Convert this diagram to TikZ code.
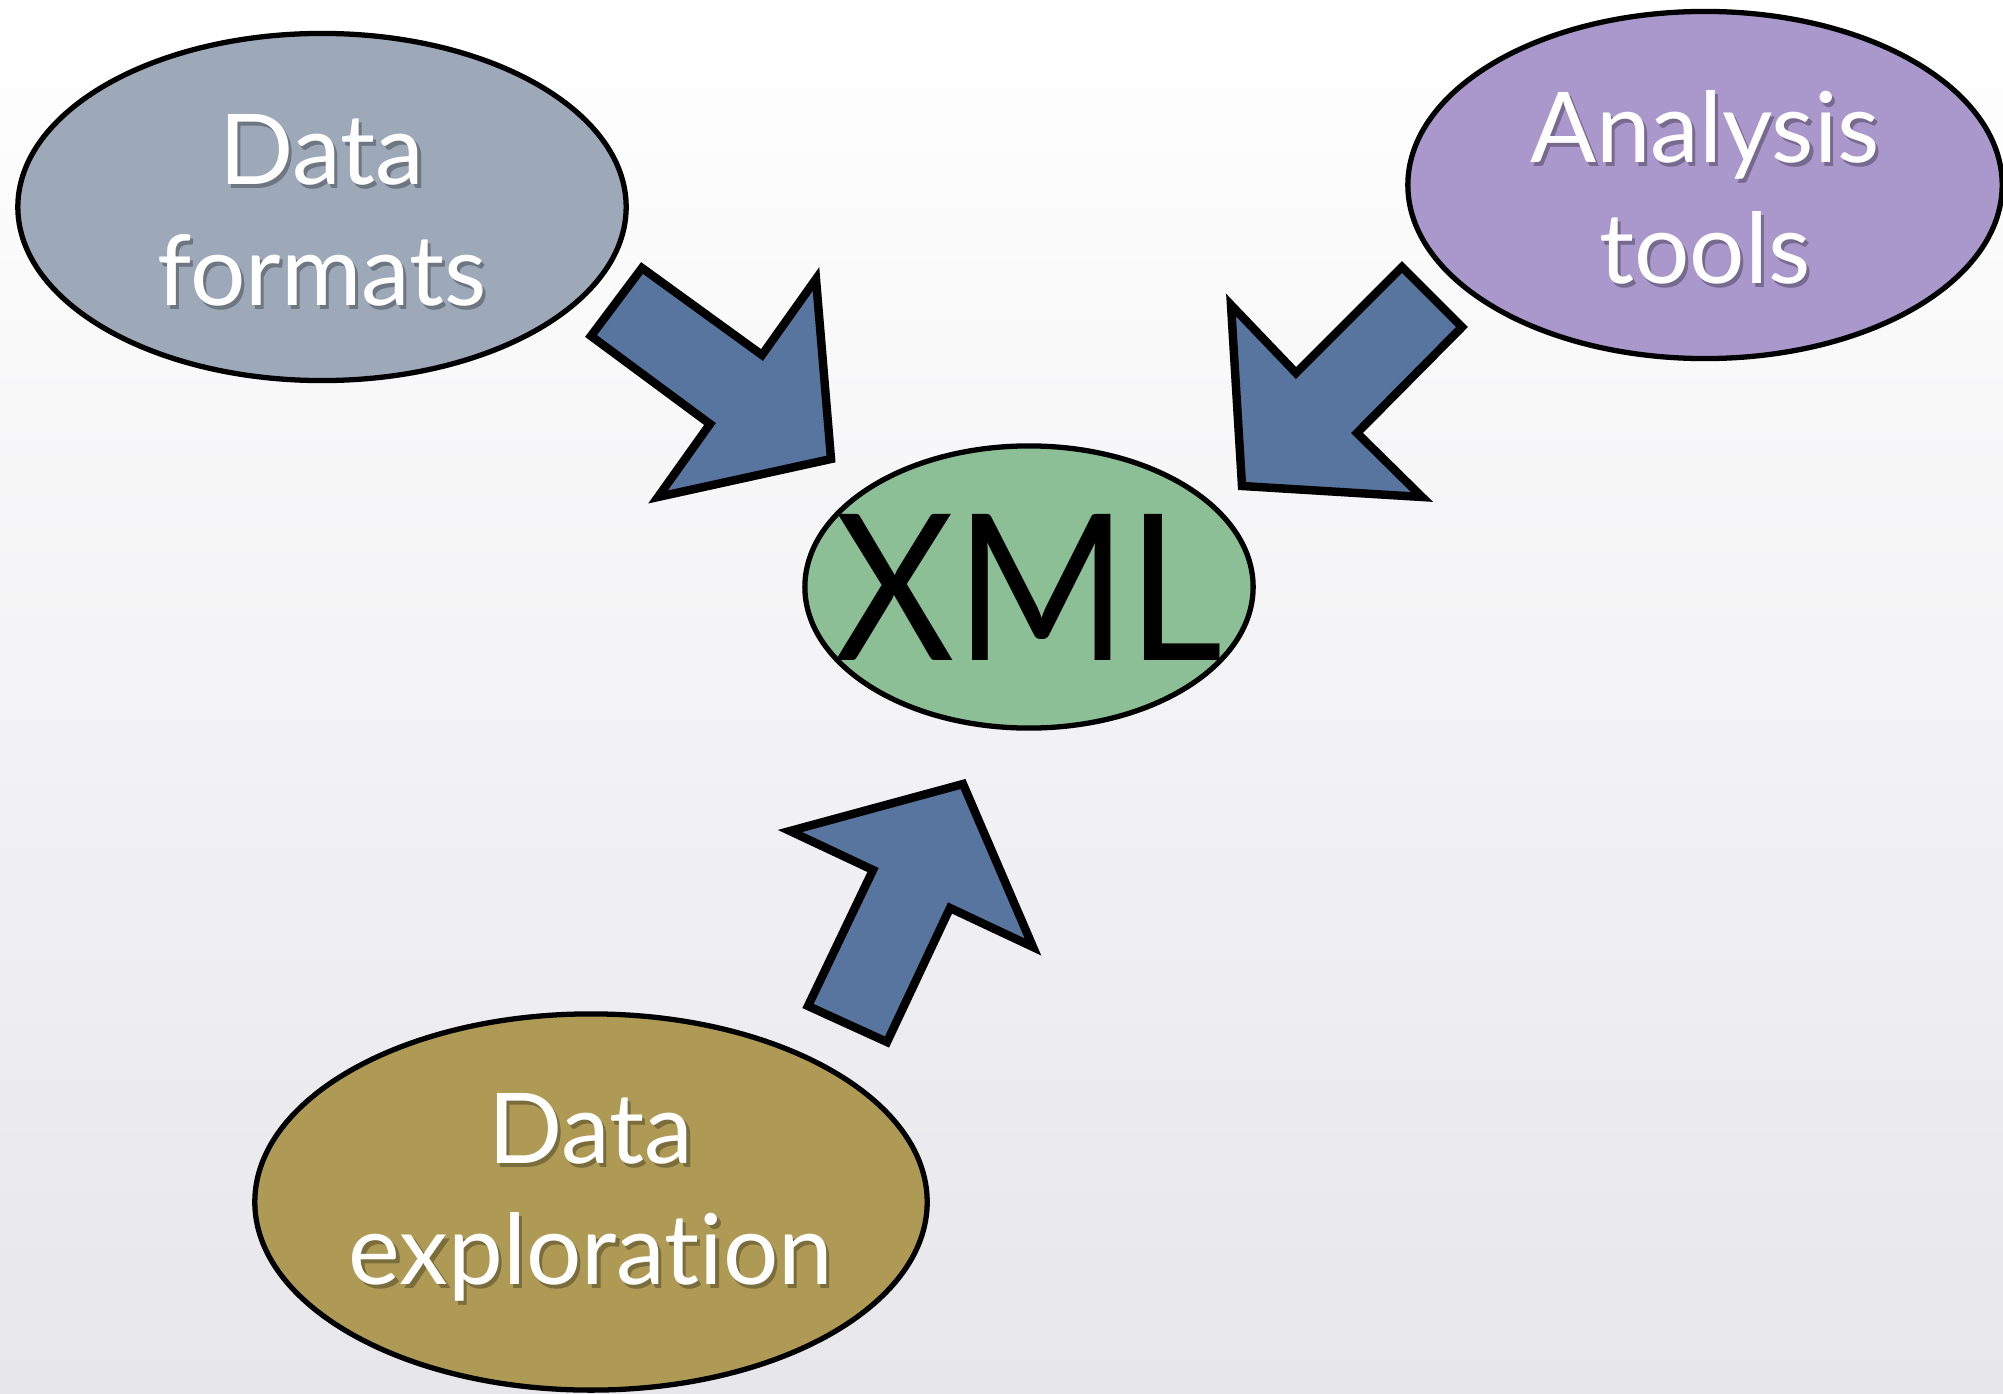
\documentclass[tikz,border=0pt]{standalone}
\usepackage{fontspec}
\setmainfont{Lato}[Ligatures=NoCommon]
\usetikzlibrary{shapes.geometric}

\definecolor{formatgray}{HTML}{9DA9B9}
\definecolor{toolpurple}{HTML}{AA97CC}
\definecolor{xmlgreen}{HTML}{8CBF95}
\definecolor{exploreolive}{HTML}{AE9A55}
\definecolor{arrowblue}{HTML}{5875A0}
\definecolor{bggray}{HTML}{E7E7EB}

% centred lines of zero width (the ellipse keeps its own size), with a dark shadow
\newcommand{\ctrtext}[3][0pt]{\raisebox{#1}[\height][\depth]{\makebox[0pt]{\makebox[0pt][l]{\hspace{0.9pt}\raisebox{-1pt}{\color{#2!70!black}\begin{tabular}{@{}c@{}}#3\end{tabular}}}\begin{tabular}{@{}c@{}}#3\end{tabular}}}}

\tikzset{
  bubble/.style={ellipse, draw=black, line width=1.5pt, inner sep=0pt, text=white,
    font=\fontsize{27.8}{34.4}\selectfont},
  blockarrow/.style={fill=arrowblue, draw=black, line width=2.4pt, line join=miter},
}

\begin{document}
\begin{tikzpicture}[x=0.01cm, y=-0.01cm]
        \shade[top color=white, middle color=white!97!bggray, bottom color=bggray] (0,0) rectangle (2003,1394);
        \useasboundingbox (0,0) rectangle (2003,1394);

        \node (formats) at (322,207) [bubble, fill=formatgray, minimum width=6.08cm, minimum height=3.42cm]{\ctrtext[-4.5pt]{formatgray}{Data\\formats}};
        \node (tools) at (1705,185) [bubble, fill=toolpurple, minimum width=5.94cm, minimum height=3.40cm]{\ctrtext[-4.5pt]{toolpurple}{Analysis\\tools}};
        \node (xml) at (1029,587) [bubble, fill=xmlgreen, minimum width=4.48cm, minimum height=2.82cm, text=black,
            font=\fontsize{58}{58}\selectfont]{\makebox[0pt]{\scalebox{0.91}[1]{XML}}};
        \node (explore) at (591,1202) [bubble, fill=exploreolive, minimum width=6.72cm, minimum height=3.76cm]{\ctrtext{exploreolive}{Data\\exploration}};

        \draw[blockarrow] (642,268) -- (762,355) -- (816,279) -- (831,459) -- (658,497) -- (710,424) -- (591,336) -- cycle;
        \draw[blockarrow] (1402,267) -- (1462,327) -- (1357,433) -- (1422,497) -- (1242,486) -- (1231,305) -- (1296,373) -- cycle;
        \draw[blockarrow] (808,1006) -- (873,870) -- (790,831) -- (963,784) -- (1033,947) -- (950,908) -- (887,1042) -- cycle;
    \end{tikzpicture}
\end{document}
